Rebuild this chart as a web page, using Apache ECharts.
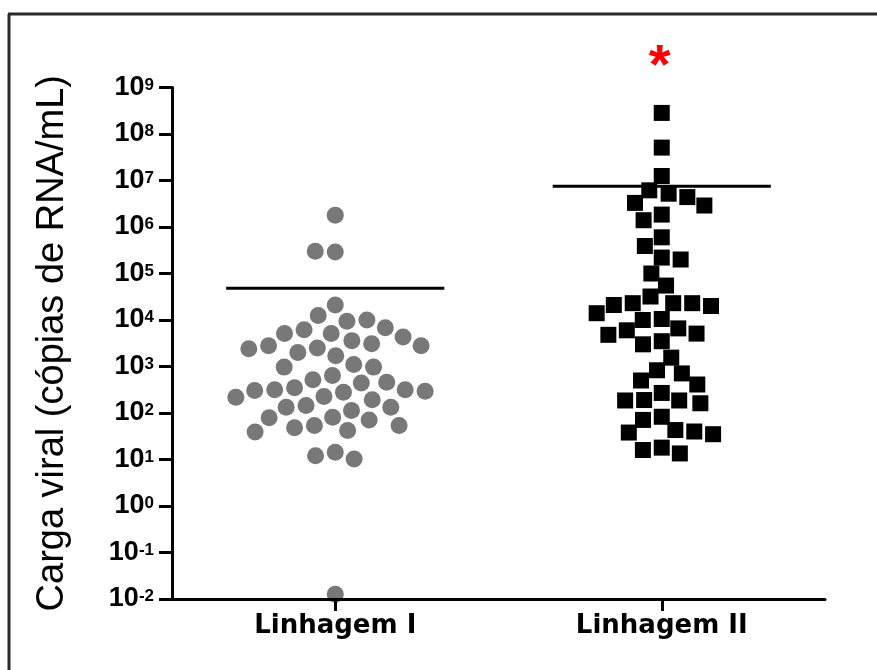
<!DOCTYPE html>
<html>
<head>
<meta charset="utf-8">
<script src="https://cdn.jsdelivr.net/npm/echarts@6.0.0/dist/echarts.min.js"></script>
<style>
  html, body { margin: 0; padding: 0; background: #ffffff; }
  #chart { width: 877px; height: 670px; }
</style>
</head>
<body>
<div id="chart"></div>
<script>
// ---------- data ----------
const categories = ['Linhagem I', 'Linhagem II'];

// Linhagem I (copies of RNA/mL), grey circles
const lineageI = [
  1.8e6, 2.9e5, 3.0e5, 2.1e4, 1.25e4, 9.4e3, 1.0e4, 6.2e3, 6.8e3, 5.1e3,
  5.1e3, 4.3e3, 3.6e3, 3.1e3, 2.8e3, 2.8e3, 2.5e3, 2.4e3, 2.0e3, 1.7e3,
  1.1e3, 970, 970, 640, 520, 460, 440, 350, 315, 315,
  304, 294, 280, 226, 218, 192, 145, 133, 133, 113,
  81, 79, 71, 54, 54, 48, 42, 39, 14.3, 12.1,
  10.3, 0.0126
];

// Linhagem II (copies of RNA/mL), black squares
const lineageII = [
  2.84e8, 5.1e7, 1.25e7, 6.15e6, 5.2e6, 4.4e6, 3.3e6, 2.9e6, 1.85e6, 1.4e6,
  6.0e5, 3.9e5, 2.2e5, 2.0e5, 1.0e5, 5.5e4, 3.2e4, 2.3e4, 2.3e4, 2.3e4,
  2.1e4, 2.0e4, 1.4e4, 1.05e4, 1.0e4, 6.6e3, 6.0e3, 5.1e3, 4.8e3, 3.5e3,
  3.0e3, 1.55e3, 830, 710, 500, 410, 270, 190, 186, 186,
  162, 83, 71, 43, 40, 38, 35, 18, 16, 13.5
];

const yAxisTitle = 'Carga viral (cópias de RNA/mL)';
const significanceMark = '*';

// ---------- chart ----------
function mean(arr) { return arr.reduce((s, v) => s + v, 0) / arr.length; }
const means = [[0, mean(lineageI)], [1, mean(lineageII)]];

const chart = echarts.init(document.getElementById('chart'), null, { renderer: 'canvas' });

const option = {
  animation: false,
  backgroundColor: '#ffffff',
  grid: { left: 172, right: 52, top: 87.5, bottom: 71, containLabel: false },
  xAxis: {
    type: 'category',
    data: categories,
    z: 5,
    jitter: 260,
    jitterOverlap: false,
    jitterMargin: 3,
    axisLine: { show: true, lineStyle: { color: '#000', width: 3 } },
    axisTick: { show: true, alignWithLabel: true, length: 12, lineStyle: { color: '#000', width: 3 } },
    axisLabel: { margin: 14, color: '#000', fontSize: 26, fontWeight: 'bold', fontFamily: 'DejaVu Sans' },
    splitLine: { show: false }
  },
  yAxis: {
    type: 'log',
    logBase: 10,
    min: 0.01,
    max: 1e9,
    interval: 1,
    splitNumber: 11,
    z: 5,
    name: yAxisTitle,
    nameLocation: 'middle',
    nameRotate: 90,
    nameGap: 100,
    nameTextStyle: { fontSize: 38, color: '#000', fontFamily: 'Liberation Sans' },
    axisLine: { show: true, lineStyle: { color: '#000', width: 3 } },
    axisTick: { show: true, length: 13, lineStyle: { color: '#000', width: 3 } },
    splitLine: { show: false },
    minorTick: { show: false },
    axisLabel: {
      margin: 18,
      formatter: function (v) {
        const e = Math.round(Math.log10(v));
        return '{b|10}{s|' + e + '}';
      },
      rich: {
        b: { fontSize: 27, fontWeight: 'bold', fontFamily: 'Liberation Sans', color: '#000', lineHeight: 22 },
        s: { fontSize: 17, fontWeight: 'bold', fontFamily: 'Liberation Sans', color: '#000', lineHeight: 14, verticalAlign: 'top' }
      }
    }
  },
  series: [
    {
      name: 'Linhagem I',
      type: 'scatter',
      symbol: 'circle',
      symbolSize: 17,
      itemStyle: { color: '#787878', opacity: 1 },
      data: lineageI.map(v => [categories[0], v])
    },
    {
      name: 'Linhagem II',
      type: 'scatter',
      symbol: 'rect',
      symbolSize: 16,
      itemStyle: { color: '#000', opacity: 1 },
      data: lineageII.map(v => [categories[1], v])
    },
    {
      name: 'mean',
      type: 'custom',
      z: 4,
      data: means,
      renderItem: function (params, api) {
        const idx = api.value(0);
        const val = api.value(1);
        const c = api.coord([idx, val]);
        const band = Math.abs(api.coord([1, val])[0] - api.coord([0, val])[0]);
        const half = band * 0.334;
        return {
          type: 'line',
          shape: { x1: c[0] - half, y1: c[1], x2: c[0] + half, y2: c[1] },
          style: { stroke: '#000', lineWidth: 3 }
        };
      }
    }
  ]
};

chart.setOption(option);

const starX = chart.convertToPixel({ xAxisIndex: 0 }, categories[1]);
chart.setOption({
  graphic: [
    { type: 'line', shape: { x1: 8, y1: 14, x2: 877, y2: 14 }, style: { stroke: '#2a2a2a', lineWidth: 3 }, silent: true },
    { type: 'line', shape: { x1: 9, y1: 14, x2: 9, y2: 670 }, style: { stroke: '#2a2a2a', lineWidth: 3 }, silent: true },
    {
      type: 'text', x: starX - 2, y: 68, silent: true,
      style: { text: significanceMark, fill: '#ff0000', font: 'bold 56px "Liberation Sans"', textAlign: 'center', textVerticalAlign: 'middle' }
    }
  ]
});
</script>
</body>
</html>
